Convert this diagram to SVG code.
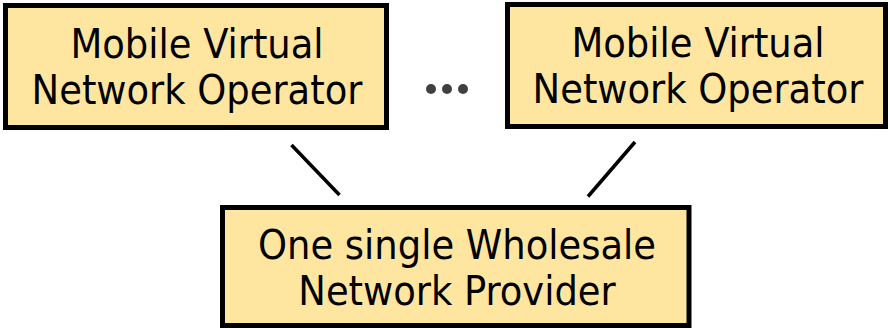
<svg xmlns="http://www.w3.org/2000/svg" width="890" height="328" viewBox="0 0 890 328">
<style>
.box{fill:#ffe6a0;stroke:#000;stroke-width:5}
.lbl{font-family:"DejaVu Sans Condensed","DejaVu Sans",sans-serif;font-size:41px;fill:#000;text-anchor:middle}
.conn{stroke:#000;stroke-width:3.5;fill:none}
</style>
<rect width="890" height="328" fill="#fff"/>
<g id="mvno1">
<rect class="box" x="5.5" y="5.5" width="381" height="122"/>
<text class="lbl" x="197" y="57.5">Mobile Virtual</text>
<text class="lbl" x="197" y="104">Network Operator</text>
</g>
<g id="mvno2">
<rect class="box" x="507.5" y="4.5" width="378" height="122"/>
<text class="lbl" x="698" y="56.5">Mobile Virtual</text>
<text class="lbl" x="698" y="103">Network Operator</text>
</g>
<g id="wnp">
<rect class="box" x="222.5" y="207.5" width="466.5" height="118"/>
<text class="lbl" x="457" y="258.5">One single Wholesale</text>
<text class="lbl" x="457" y="305">Network Provider</text>
</g>
<g id="ellipsis" fill="#404040">
<circle cx="431" cy="89" r="5"/>
<circle cx="447" cy="89" r="5"/>
<circle cx="463" cy="89" r="5"/>
</g>
<g id="connectors">
<line class="conn" x1="291.5" y1="145" x2="339.5" y2="195"/>
<line class="conn" x1="635" y1="142" x2="588" y2="196.5"/>
</g>
</svg>
